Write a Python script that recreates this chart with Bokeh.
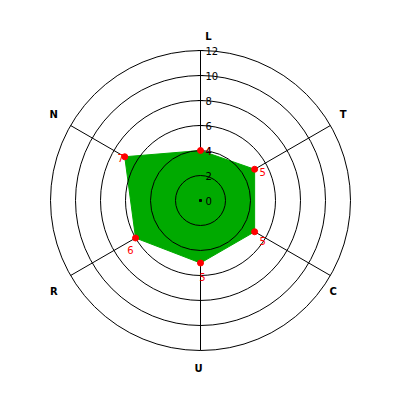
import numpy as np
from bokeh.plotting import figure
from bokeh.models import ColumnDataSource
from bokeh.core.properties import value
from bokeh.embed import file_html
from bokeh.resources import INLINE

# ---- data ----
axis_names = ["L", "T", "C", "U", "R", "N"]
series_values = [4, 5, 5, 5, 6, 7]
tick_values = [0, 2, 4, 6, 8, 10, 12]
tick_labels = ["0", "2", "4", "6", "8", "10", "12"]

# ---- geometry ----
rmax = max(tick_values)
n = len(axis_names)
angles = np.pi / 2 - 2 * np.pi * np.arange(n) / n
px_per_unit = 12.5
W = 384
lo = -200 / px_per_unit
hi = lo + W / px_per_unit

p = figure(width=W, height=W, x_range=(lo, hi), y_range=(-hi, -lo),
           output_backend="svg", toolbar_location=None, min_border=0,
           outline_line_color=None, background_fill_color="white")
p.axis.visible = False
p.grid.visible = False

cosv, sinv = np.cos(angles), np.sin(angles)

# spokes
p.segment(x0=[0] * n, y0=[0] * n, x1=list(rmax * cosv), y1=list(rmax * sinv),
          line_color="black", line_width=1)
# tick marks on the first (vertical) axis
tv = np.array(tick_values, dtype=float)
p.segment(x0=list(-0.22 + 0 * tv), y0=list(tv), x1=list(0.22 + 0 * tv), y1=list(tv),
          line_color="black", line_width=1)

# polygon
vals = np.array(series_values, dtype=float)
xs = list(vals * cosv)
ys = list(vals * sinv)
p.patch(xs, ys, fill_color="#00AA00", line_color="#00AA00", line_width=1)

# grid circles (drawn over polygon)
rings = [t for t in tick_values if t > 0]
p.circle(x=[0] * len(rings), y=[0] * len(rings), radius=rings, radius_units="data",
         fill_color=None, line_color="black", line_width=1)
p.scatter(x=[0], y=[0], size=2, marker="square", color="black")

# markers
p.scatter(xs, ys, size=6, marker="circle", fill_color="red", line_color="red")

# value labels (red)
lab_dx = [8, 8, 8, 2, -5, -4]
lab_dy = [0, 3, 9, 14, 12, 1]
src = ColumnDataSource(dict(x=xs, y=ys, t=[str(v) for v in series_values],
                            dx=lab_dx, dy=lab_dy))
p.text(x="x", y="y", text="t", x_offset="dx", y_offset="dy", source=src,
       text_color="red", text_font=value("DejaVu Sans"), text_font_size="10px",
       text_align="center", text_baseline="middle")

# tick labels
p.text(x=[5 / px_per_unit] * len(tick_values), y=tick_values, text=tick_labels,
       text_color="black", text_font=value("DejaVu Sans"), text_font_size="10px",
       text_align="left", text_baseline="middle")

# axis titles
title_r = 166 / px_per_unit
tdx = [8, -1, -11, -2, -3, -3]
tdy = [2, -3, 8, 2, 8, -3]
tsrc = ColumnDataSource(dict(x=list(title_r * cosv), y=list(title_r * sinv),
                             t=axis_names, dx=tdx, dy=tdy))
p.text(x="x", y="y", text="t", x_offset="dx", y_offset="dy", source=tsrc,
       text_color="black", text_font=value("DejaVu Sans"), text_font_size="10px",
       text_font_style="bold", text_align="center", text_baseline="middle")

open("out.html", "w").write(file_html(p, INLINE))
